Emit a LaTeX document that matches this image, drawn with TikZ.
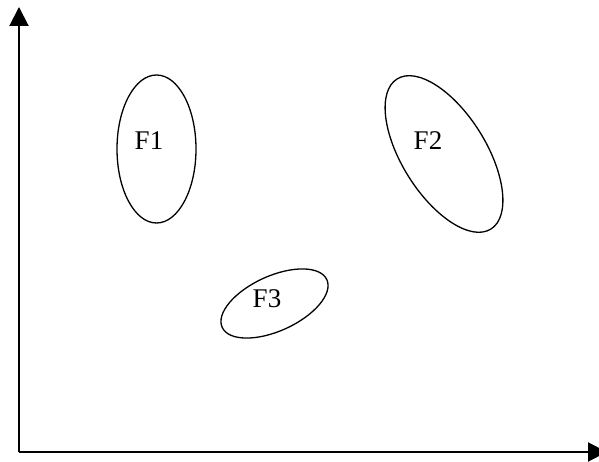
\documentclass[tikz,border=0pt]{standalone}
\usepackage{fontspec}
\setmainfont{Liberation Serif}
\usepackage{tikz}
\usetikzlibrary{arrows.meta,shapes.geometric}

\begin{document}
\begin{tikzpicture}[
    x=1pt, y=1pt,
    axis/.style={line width=2pt, -{Triangle[length=19pt, width=19pt]}},
    blob/.style={draw, ellipse, line width=1.3pt, inner sep=0pt},
    lbl/.style={font=\fontsize{27}{30}\selectfont}
]
\useasboundingbox (0,0) rectangle (599,462);

\coordinate (origin) at (19,10);
\coordinate (ytop) at (19,455);
\coordinate (xend) at (607,10);

\draw[axis] (origin) -- (ytop);
\draw[axis] (origin) -- (xend);

\node[blob, minimum width=79pt, minimum height=148pt] (f1) at (156.5,313) {};
\node[blob, minimum width=84pt, minimum height=177pt, rotate=32] (f2) at (444,308) {};
\node[blob, minimum width=115pt, minimum height=55pt, rotate=24.5] (f3) at (274.5,158.5) {};

\node[lbl] (f1label) at (149,321) {F1};
\node[lbl] (f2label) at (428,321) {F2};
\node[lbl] (f3label) at (267,163) {F3};

\end{tikzpicture}
\end{document}
